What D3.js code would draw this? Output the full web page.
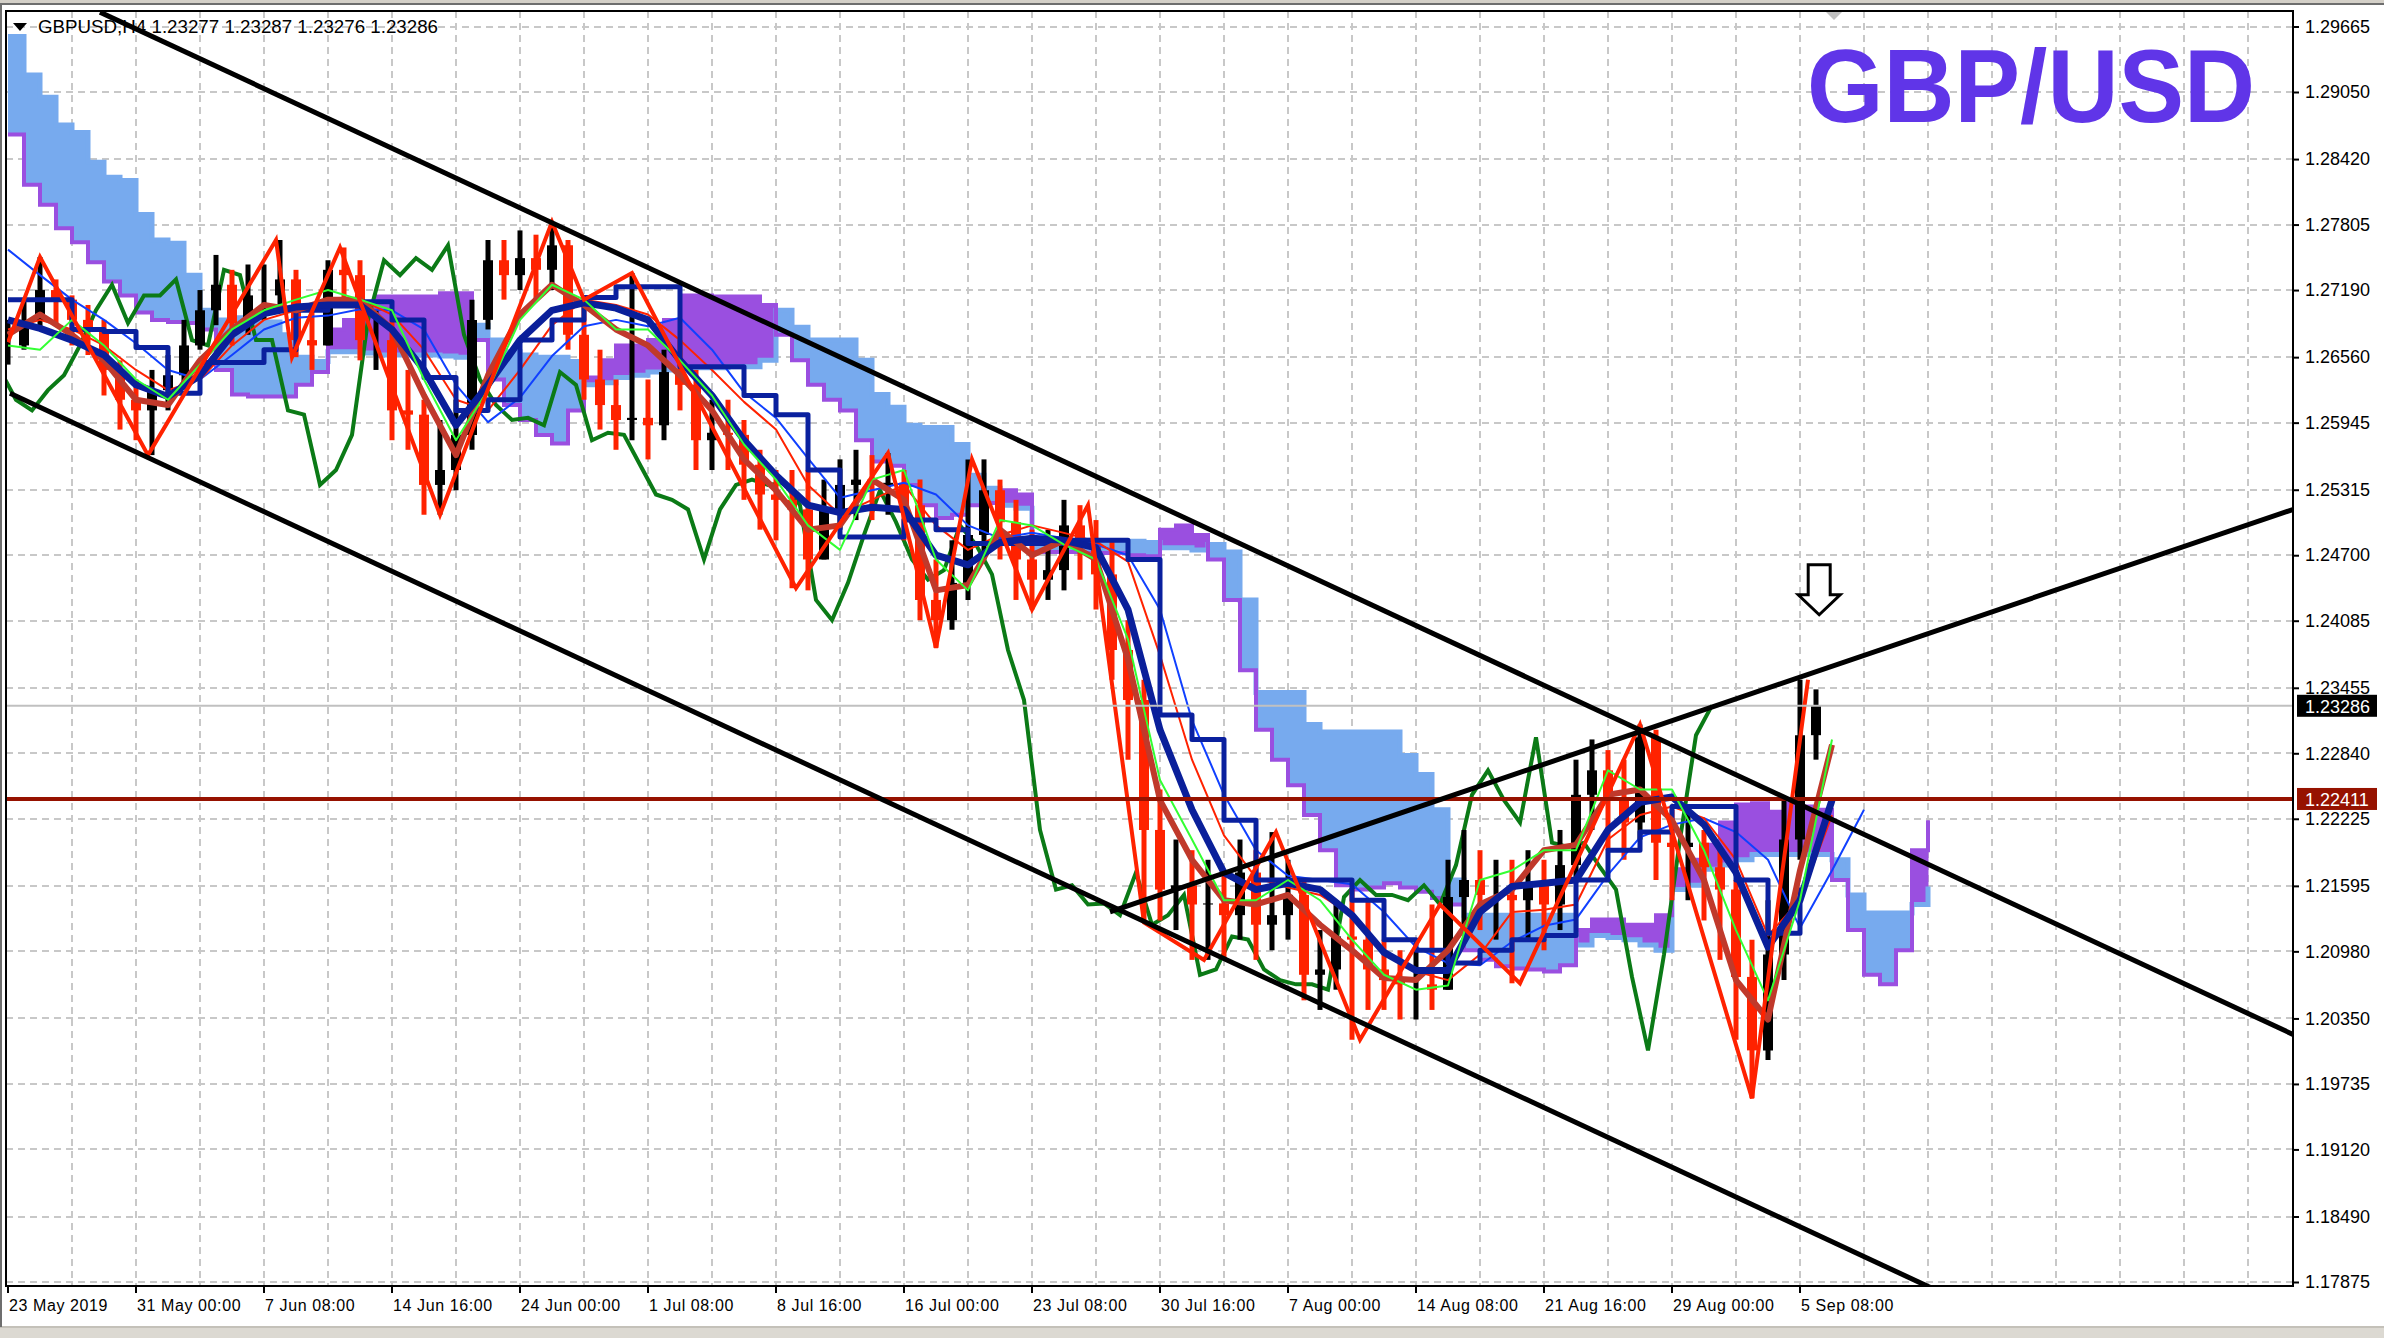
<!DOCTYPE html>
<html><head><meta charset="utf-8">
<script src="https://cdn.jsdelivr.net/npm/d3@7"></script>
<style>
html,body{margin:0;padding:0;background:#fff;overflow:hidden}
svg{display:block}
text{font-family:"Liberation Sans",Arial,sans-serif}
</style></head><body>
<svg id="c" width="2384" height="1338"></svg>
<script>
// ---------- DATA (GBPUSD H4) ----------
const symbolHeader = "GBPUSD,H4  1.23277 1.23287 1.23276 1.23286";
const title = "GBP/USD";
const dateLabels = ["23 May 2019","31 May 00:00","7 Jun 08:00","14 Jun 16:00","24 Jun 00:00","1 Jul 08:00","8 Jul 16:00","16 Jul 00:00","23 Jul 08:00","30 Jul 16:00","7 Aug 00:00","14 Aug 08:00","21 Aug 16:00","29 Aug 00:00","5 Sep 08:00"];
const dateLabelBars = [0,32,64,96,128,160,192,224,256,288,320,352,384,416,448];
const yTicks = [1.29665,1.29050,1.28420,1.27805,1.27190,1.26560,1.25945,1.25315,1.24700,1.24085,1.23455,1.22840,1.22225,1.21595,1.20980,1.20350,1.19735,1.19120,1.18490,1.17875];
const lastPrice = 1.23286;
const levelLine = 1.22411;
// price, one sample every 4 bars
const closes = [1.2667,1.2691,1.2719,1.2710,1.2691,1.2682,1.2644,1.2616,1.2606,1.2625,
1.2639,1.2667,1.2700,1.2724,1.2688,1.2714,1.2714,1.2729,1.2672,1.2667,
1.2738,1.2733,1.2672,1.2672,1.2606,1.2602,1.2536,1.2550,1.2583,1.2691,
1.2747,1.2733,1.2749,1.2738,1.2761,1.2677,1.2635,1.2611,1.2597,1.2599,
1.2592,1.2642,1.2630,1.2578,1.2585,1.2583,1.2555,1.2527,1.2522,1.2513,
1.2466,1.2513,1.2536,1.2541,1.2536,1.2538,1.2517,1.2428,1.2409,1.2444,
1.2489,1.2531,1.2501,1.2466,1.2447,1.2456,1.2498,1.2480,1.2452,1.2381,
1.2334,1.2212,1.2156,1.2160,1.2142,1.2143,1.2132,1.2172,1.2123,1.2132,
1.2151,1.2076,1.2081,1.2112,1.2109,1.2081,1.2071,1.2067,1.2067,1.2062,
1.2149,1.2165,1.2151,1.2151,1.2146,1.2160,1.2142,1.2179,1.2245,1.2268,
1.2240,1.2219,1.2299,1.2200,1.2196,1.2200,1.2177,1.2156,1.2074,1.2005,
1.2095,1.2203,1.2301,1.2329];
const highs = [1.2691,1.2710,1.2750,1.2729,1.2714,1.2705,1.2691,1.2653,1.2635,1.2644,
1.2658,1.2691,1.2719,1.2752,1.2738,1.2743,1.2743,1.2766,1.2738,1.2700,
1.2747,1.2759,1.2747,1.2700,1.2691,1.2644,1.2616,1.2597,1.2616,1.2710,
1.2766,1.2766,1.2775,1.2771,1.2783,1.2766,1.2710,1.2663,1.2635,1.2735,
1.2635,1.2663,1.2672,1.2644,1.2616,1.2616,1.2597,1.2569,1.2550,1.2550,
1.2550,1.2541,1.2560,1.2569,1.2564,1.2566,1.2550,1.2541,1.2466,1.2484,
1.2560,1.2560,1.2541,1.2522,1.2494,1.2494,1.2522,1.2517,1.2503,1.2484,
1.2409,1.2353,1.2250,1.2203,1.2193,1.2184,1.2174,1.2203,1.2193,1.2210,
1.2184,1.2165,1.2118,1.2146,1.2156,1.2146,1.2109,1.2099,1.2099,1.2142,
1.2184,1.2212,1.2193,1.2184,1.2184,1.2193,1.2184,1.2212,1.2278,1.2297,
1.2287,1.2278,1.2311,1.2306,1.2231,1.2231,1.2212,1.2193,1.2165,1.2109,
1.2146,1.2240,1.2353,1.2344];
const lows = [1.2649,1.2663,1.2682,1.2686,1.2667,1.2658,1.2620,1.2588,1.2578,1.2564,
1.2606,1.2630,1.2663,1.2686,1.2667,1.2677,1.2691,1.2700,1.2656,1.2644,
1.2667,1.2710,1.2653,1.2644,1.2578,1.2569,1.2508,1.2508,1.2531,1.2569,
1.2682,1.2710,1.2719,1.2710,1.2719,1.2663,1.2616,1.2588,1.2569,1.2578,
1.2560,1.2578,1.2606,1.2550,1.2550,1.2550,1.2522,1.2494,1.2484,1.2439,
1.2437,1.2466,1.2494,1.2503,1.2503,1.2508,1.2484,1.2409,1.2383,1.2400,
1.2428,1.2466,1.2466,1.2428,1.2419,1.2428,1.2437,1.2447,1.2419,1.2353,
1.2278,1.2125,1.2127,1.2118,1.2090,1.2090,1.2090,1.2109,1.2090,1.2099,
1.2109,1.2052,1.2043,1.2062,1.2015,1.2043,1.2043,1.2034,1.2034,1.2043,
1.2062,1.2118,1.2118,1.2109,1.2068,1.2109,1.2099,1.2118,1.2165,1.2212,
1.2193,1.2184,1.2203,1.2165,1.2146,1.2146,1.2127,1.2090,1.2015,1.1960,
1.1996,1.2071,1.2184,1.2278];
// Ichimoku spans, one every 4 bars
const spanA = [1.2957,1.2921,1.2900,1.2874,1.2867,1.2839,1.2825,1.2822,1.2790,1.2766,
1.2763,1.2733,1.2700,1.2691,1.2693,1.2691,1.2689,1.2677,1.2656,1.2652,
1.2661,1.2661,1.2660,1.2658,1.2658,1.2658,1.2658,1.2657,1.2656,1.2686,
1.2672,1.2661,1.2658,1.2656,1.2656,1.2652,1.2630,1.2632,1.2637,1.2639,
1.2642,1.2644,1.2646,1.2646,1.2646,1.2647,1.2647,1.2653,1.2700,1.2684,
1.2672,1.2672,1.2672,1.2653,1.2621,1.2609,1.2592,1.2590,1.2590,1.2574,
1.2545,1.2533,1.2517,1.2514,1.2484,1.2484,1.2484,1.2484,1.2483,1.2483,
1.2483,1.2482,1.2477,1.2477,1.2475,1.2480,1.2473,1.2428,1.2341,1.2341,
1.2341,1.2311,1.2304,1.2304,1.2304,1.2304,1.2304,1.2282,1.2264,1.2231,
1.2165,1.2132,1.2132,1.2132,1.2132,1.2132,1.2132,1.2132,1.2104,1.2113,
1.2111,1.2109,1.2104,1.2099,1.2156,1.2160,1.2175,1.2179,1.2184,1.2189,
1.2189,1.2189,1.2189,1.2189,1.2184,1.2151,1.2134,1.2134,1.2134,1.2142,1.2159];
const spanB = [1.2865,1.2818,1.2799,1.2777,1.2764,1.2745,1.2727,1.2714,1.2698,1.2691,
1.2689,1.2688,1.2682,1.2644,1.2621,1.2619,1.2619,1.2619,1.2630,1.2642,
1.2682,1.2691,1.2705,1.2713,1.2713,1.2713,1.2713,1.2716,1.2716,1.2672,
1.2635,1.2611,1.2597,1.2583,1.2575,1.2606,1.2637,1.2653,1.2667,1.2667,
1.2672,1.2691,1.2714,1.2714,1.2713,1.2713,1.2713,1.2705,1.2677,1.2653,
1.2630,1.2616,1.2606,1.2578,1.2558,1.2554,1.2536,1.2517,1.2505,1.2508,
1.2517,1.2519,1.2531,1.2527,1.2473,1.2473,1.2473,1.2472,1.2472,1.2472,
1.2470,1.2469,1.2494,1.2498,1.2489,1.2466,1.2428,1.2362,1.2306,1.2278,
1.2254,1.2226,1.2193,1.2160,1.2156,1.2158,1.2162,1.2158,1.2154,1.2148,
1.2142,1.2099,1.2090,1.2084,1.2082,1.2081,1.2079,1.2085,1.2118,1.2128,
1.2128,1.2123,1.2123,1.2132,1.2175,1.2184,1.2198,1.2219,1.2236,1.2237,
1.2229,1.2237,1.2234,1.2231,1.2165,1.2118,1.2076,1.2067,1.2099,1.2193,1.2221];
// moving averages, one every 8 bars
const maNavy = [1.2691,1.2683,1.2672,1.2658,1.2630,1.2619,1.2639,1.2677,1.2697,1.2703,
1.2705,1.2705,1.2682,1.2644,1.2592,1.2630,1.2672,1.2700,1.2707,1.2702,
1.2691,1.2653,1.2620,1.2578,1.2545,1.2517,1.2510,1.2515,1.2513,1.2470,
1.2461,1.2482,1.2486,1.2484,1.2477,1.2419,1.2306,1.2231,1.2172,1.2156,
1.2162,1.2156,1.2132,1.2097,1.2080,1.2080,1.2135,1.2159,1.2162,1.2165,
1.2212,1.2238,1.2243,1.2217,1.2172,1.2102,1.2146,1.2240];
const maBrown = [1.2677,1.2696,1.2677,1.2653,1.2616,1.2611,1.2653,1.2682,1.2705,1.2700,
1.2710,1.2710,1.2682,1.2620,1.2564,1.2639,1.2696,1.2724,1.2705,1.2682,
1.2667,1.2639,1.2606,1.2560,1.2531,1.2494,1.2498,1.2541,1.2522,1.2437,
1.2442,1.2494,1.2470,1.2484,1.2466,1.2372,1.2240,1.2184,1.2146,1.2142,
1.2151,1.2123,1.2099,1.2073,1.2071,1.2099,1.2142,1.2156,1.2193,1.2198,
1.2245,1.2250,1.2221,1.2165,1.2071,1.2034,1.2174,1.2292];
const kijun = [1.2710,1.2710,1.2682,1.2680,1.2665,1.2622,1.2651,1.2651,1.2663,1.2700,
1.2708,1.2708,1.2691,1.2637,1.2606,1.2616,1.2672,1.2691,1.2712,1.2722,
1.2722,1.2647,1.2647,1.2620,1.2602,1.2550,1.2487,1.2487,1.2503,1.2494,
1.2481,1.2481,1.2481,1.2484,1.2484,1.2466,1.2320,1.2297,1.2221,1.2165,
1.2165,1.2165,1.2146,1.2109,1.2099,1.2087,1.2099,1.2109,1.2113,1.2165,
1.2193,1.2210,1.2234,1.2234,1.2165,1.2115,1.2158];
const maBlueThin = [1.2757,1.2733,1.2710,1.2691,1.2669,1.2644,1.2635,1.2658,1.2682,1.2693,
1.2695,1.2701,1.2700,1.2682,1.2630,1.2595,1.2618,1.2657,1.2685,1.2691,
1.2685,1.2693,1.2663,1.2623,1.2599,1.2561,1.2524,1.2531,1.2538,1.2527,
1.2498,1.2486,1.2491,1.2486,1.2480,1.2470,1.2419,1.2315,1.2245,1.2193,
1.2169,1.2165,1.2161,1.2135,1.2102,1.2087,1.2085,1.2107,1.2122,1.2128,
1.2170,1.2205,1.2217,1.2223,1.2210,1.2184,1.2120,1.2174,1.2231];
const maRedThin = [1.2682,1.2691,1.2682,1.2667,1.2644,1.2625,1.2635,1.2667,1.2691,1.2700,
1.2710,1.2710,1.2696,1.2663,1.2616,1.2606,1.2644,1.2686,1.2710,1.2705,
1.2696,1.2672,1.2644,1.2614,1.2588,1.2536,1.2508,1.2522,1.2536,1.2498,
1.2475,1.2489,1.2498,1.2491,1.2483,1.2464,1.2376,1.2278,1.2207,1.2167,
1.2158,1.2151,1.2132,1.2097,1.2079,1.2071,1.2095,1.2135,1.2137,1.2142,
1.2203,1.2226,1.2234,1.2223,1.2184,1.2113,1.2146,1.2226];
const maLime = [1.2667,1.2663,1.2691,1.2667,1.2635,1.2616,1.2649,1.2682,1.2700,1.2710,
1.2719,1.2710,1.2700,1.2635,1.2578,1.2625,1.2691,1.2724,1.2710,1.2682,
1.2682,1.2653,1.2620,1.2574,1.2541,1.2498,1.2475,1.2541,1.2550,1.2466,
1.2437,1.2503,1.2498,1.2480,1.2466,1.2391,1.2259,1.2203,1.2146,1.2146,
1.2165,1.2146,1.2109,1.2076,1.2062,1.2066,1.2165,1.2174,1.2193,1.2193,
1.2268,1.2250,1.2250,1.2193,1.2118,1.2052,1.2146,1.2297];
// zigzag pivots: bar index, price
const zzBars =   [0,8,35,67,71,83,108,136,144,156,197,220,232,241,256,270,284,299,317,338,358,378,408,436,450];
const zzPrices = [1.2670,1.2750,1.2564,1.2766,1.2656,1.2759,1.2508,1.2783,1.2710,1.2735,1.2439,1.2566,1.2383,1.2560,1.2419,1.2517,1.2125,1.2090,1.2210,1.2015,1.2142,1.2068,1.2311,1.1960,1.2353];
// trend lines: [bar1, price1, bar2, price2]
const trendUpperDown = [23, 1.2980, 571.25, 1.2020];
const trendLowerDown = [0.5, 1.2622, 500, 1.17484];
const trendRising    = [275.5, 1.2135, 571.25, 1.2513];
const arrowAt = [452.8, 1.2461];

// ---------- LAYOUT ----------
const svg = d3.select("#c");
const PL=6, PT=11, PR=2293, PB=1286;
const x = d3.scaleLinear().domain([0,571.25]).range([8,2293]);
const y = d3.scaleLinear().domain([1.17875,1.29665]).range([1282,26.5]);

// window chrome
svg.append("rect").attr("x",0).attr("y",0).attr("width",2384).attr("height",1338).attr("fill","#fff");
svg.append("rect").attr("x",0).attr("y",0).attr("width",2384).attr("height",4).attr("fill","#d4d0c8");
svg.append("line").attr("x1",0).attr("x2",2384).attr("y1",4).attr("y2",4).attr("stroke","#6e6e6e").attr("stroke-width",2);
svg.append("rect").attr("x",0).attr("y",1327).attr("width",2384).attr("height",11).attr("fill","#dcd9d2");
svg.append("line").attr("x1",0).attr("x2",2384).attr("y1",1327).attr("y2",1327).attr("stroke","#c4c1b9").attr("stroke-width",2);
svg.append("line").attr("x1",1).attr("x2",1).attr("y1",4).attr("y2",1327).attr("stroke","#6e6e6e").attr("stroke-width",2);

// grid
const grid = svg.append("g").attr("stroke","#c8c8c8").attr("stroke-width",2).attr("stroke-dasharray","7,5");
grid.selectAll("line.h").data(yTicks).join("line")
  .attr("x1",PL).attr("x2",PR).attr("y1",d=>Math.round(y(d))).attr("y2",d=>Math.round(y(d)));
const gridBars = d3.range(16, 571, 16);
grid.selectAll("line.v").data(gridBars).join("line")
  .attr("x1",d=>x(d)).attr("x2",d=>x(d)).attr("y1",PT).attr("y2",PB);

// clip
svg.append("clipPath").attr("id","clip").append("rect").attr("x",PL+1).attr("y",PT+1).attr("width",PR-PL-2).attr("height",PB-PT-2);
const g = svg.append("g").attr("clip-path","url(#clip)");

// cloud
const BLUE="#77aaee", PURPLE="#9a4fe0";
const cloud = spanA.map((a,i)=>({i,a,b:spanB[i]}));
g.append("g").selectAll("rect").data(cloud.slice(0,-1)).join("rect")
  .attr("x",d=>x(d.i*4)).attr("width",d=>x(d.i*4+4)-x(d.i*4)+0.5)
  .attr("y",d=>y(Math.max(d.a,d.b))).attr("height",d=>Math.abs(y(d.a)-y(d.b))+1)
  .attr("fill",d=>d.a>=d.b?BLUE:PURPLE);
const stepLine = d3.line().curve(d3.curveStepAfter);
g.append("path").attr("d",stepLine(spanA.map((v,i)=>[x(i*4),y(v)]))).attr("fill","none").attr("stroke",BLUE).attr("stroke-width",5);
g.append("path").attr("d",stepLine(spanB.map((v,i)=>[x(i*4),y(v)]))).attr("fill","none").attr("stroke",PURPLE).attr("stroke-width",4);

// chikou span (close shifted 26 bars back)
const lin = d3.line();
g.append("path").attr("d",lin(closes.map((v,i)=>[x(i*4-26),y(v)]))).attr("fill","none").attr("stroke","#0b7a16").attr("stroke-width",4).attr("stroke-linejoin","miter");

// price bars (OHLC, 4-bar samples)
const bars = closes.map((c,i)=>({i,o:i?closes[i-1]:c,c,h:highs[i],l:lows[i]}));
const bg = g.append("g");
bg.selectAll("line.hl").data(bars).join("line").attr("class","hl")
  .attr("x1",d=>x(d.i*4)).attr("x2",d=>x(d.i*4))
  .attr("y1",d=>y(d.h)).attr("y2",d=>y(d.l))
  .attr("stroke",d=>d.c>=d.o?"#000":"#ff2200").attr("stroke-width",5);
bg.selectAll("line.oc").data(bars).join("line").attr("class","oc")
  .attr("x1",d=>x(d.i*4)).attr("x2",d=>x(d.i*4))
  .attr("y1",d=>y(d.o)).attr("y2",d=>y(d.c))
  .attr("stroke",d=>d.c>=d.o?"#000":"#ff2200").attr("stroke-width",10);

// moving averages
function maPath(arr,color,w,curve){
  const l = d3.line().curve(curve||d3.curveLinear);
  g.append("path").attr("d",l(arr.map((v,k)=>[x(k*8),y(v)]))).attr("fill","none").attr("stroke",color).attr("stroke-width",w).attr("stroke-linejoin","round");
}
maPath(maBlueThin,"#1040ff",2);
maPath(maRedThin,"#ff2200",2);
maPath(kijun,"#0a209e",5,d3.curveStepAfter);
maPath(maBrown,"#c0392b",6);
maPath(maNavy,"#0a1f9a",7);
maPath(maLime,"#33ff33",2);

// zigzag
g.append("path").attr("d",lin(zzBars.map((b,i)=>[x(b),y(zzPrices[i])]))).attr("fill","none").attr("stroke","#ff2200").attr("stroke-width",4);

// horizontal lines
g.append("line").attr("x1",PL).attr("x2",PR).attr("y1",y(lastPrice)).attr("y2",y(lastPrice)).attr("stroke","#c0c0c0").attr("stroke-width",2);
g.append("line").attr("x1",PL).attr("x2",PR).attr("y1",y(levelLine)).attr("y2",y(levelLine)).attr("stroke","#961200").attr("stroke-width",4);

// trend lines
[trendUpperDown,trendLowerDown,trendRising].forEach(t=>{
  g.append("line").attr("x1",x(t[0])).attr("y1",y(t[1])).attr("x2",x(t[2])).attr("y2",y(t[3]))
   .attr("stroke","#000").attr("stroke-width",5);
});

// arrow
const ax = x(arrowAt[0]), ay = y(arrowAt[1]);
g.append("path").attr("d",`M${ax-11},${ay} L${ax+11},${ay} L${ax+11},${ay+30} L${ax+21},${ay+30} L${ax},${ay+50} L${ax-21},${ay+30} L${ax-11},${ay+30} Z`)
  .attr("fill","#fff").attr("stroke","#000").attr("stroke-width",3).attr("stroke-linejoin","miter");

// frame
svg.append("rect").attr("x",PL).attr("y",PT).attr("width",PR-PL).attr("height",PB-PT).attr("fill","none").attr("stroke","#000").attr("stroke-width",2);

// right axis
const yAxis = d3.axisRight(y).tickValues(yTicks).tickFormat(d3.format(".5f")).tickSize(6).tickPadding(6);
const ya = svg.append("g").attr("transform",`translate(${PR},0)`).call(yAxis);
ya.select(".domain").remove();
ya.selectAll("line").attr("stroke","#000").attr("stroke-width",2);
ya.selectAll("text").attr("font-size",18).attr("fill","#000").attr("font-family","Liberation Sans, Arial");

// bottom axis
const xa = svg.append("g");
xa.selectAll("line").data(dateLabelBars).join("line")
  .attr("x1",d=>x(d)).attr("x2",d=>x(d)).attr("y1",PB).attr("y2",PB+7).attr("stroke","#000").attr("stroke-width",2);
xa.selectAll("text").data(dateLabels).join("text")
  .attr("x",(d,i)=>x(dateLabelBars[i])+1).attr("y",1311)
  .attr("font-size",16).attr("letter-spacing",0.6).attr("fill","#000").text(d=>d);

// price labels
function priceTag(v,bgc){
  const yy = y(v);
  svg.append("rect").attr("x",PR+4).attr("y",yy-11).attr("width",80).attr("height",22).attr("fill",bgc);
  svg.append("text").attr("x",PR+12).attr("y",yy+7).attr("font-size",18).attr("fill","#fff").text(d3.format(".5f")(v));
}
priceTag(lastPrice,"#000");
priceTag(levelLine,"#961200");

// header
svg.append("path").attr("d","M13,23 L27,23 L20,31 Z").attr("fill","#000");
svg.append("text").attr("x",38).attr("y",33).attr("font-size",18).attr("fill","#000")
  .attr("textLength",400).attr("lengthAdjust","spacingAndGlyphs").text(symbolHeader);
// shift marker
svg.append("path").attr("d","M1826,12 L1842,12 L1834,20 Z").attr("fill","#c0c0c0");

// title
svg.append("text").attr("x",1807).attr("y",122).attr("font-size",104).attr("font-weight","bold")
  .attr("fill","#6035e8").attr("textLength",448).attr("lengthAdjust","spacingAndGlyphs").text(title);
</script>
</body></html>
